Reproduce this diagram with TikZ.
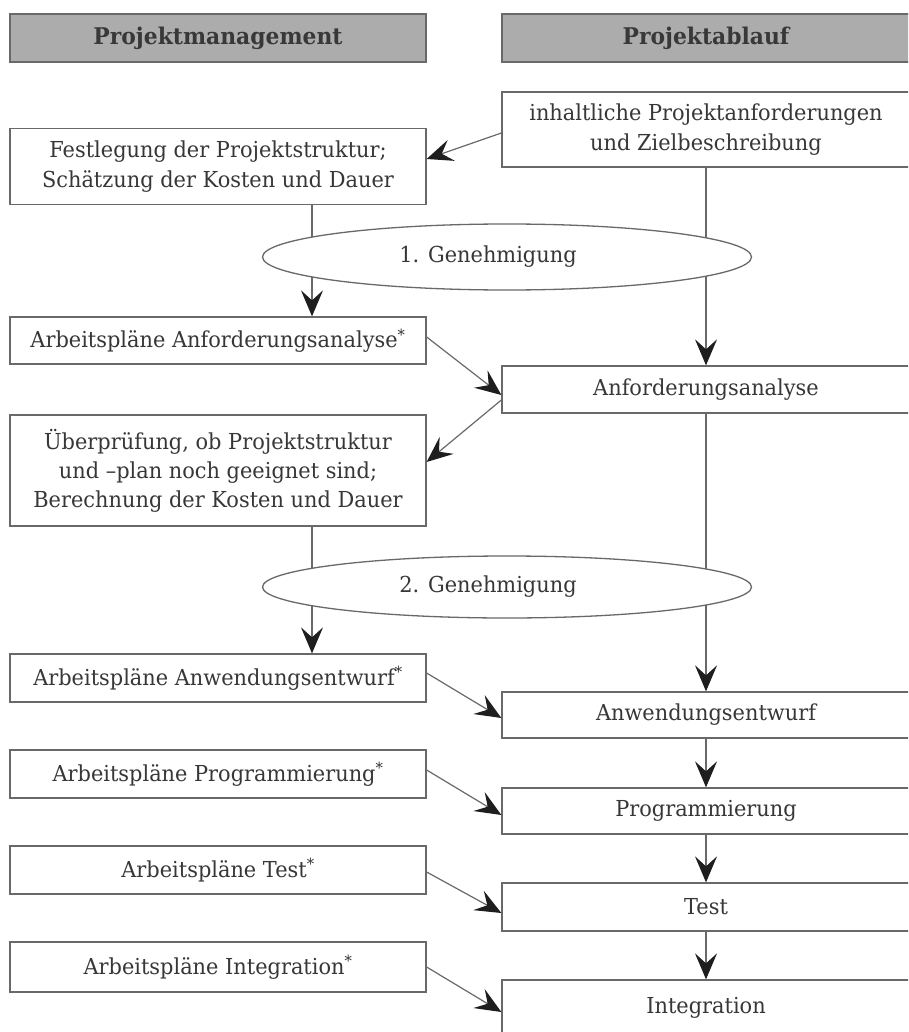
\documentclass[tikz,border=0pt]{standalone}
\usepackage{fontspec}
\setmainfont{DejaVu Serif}[FakeStretch=0.95]
\usetikzlibrary{shapes.geometric,arrows.meta}

\definecolor{linegray}{RGB}{105,105,105}
\definecolor{textgray}{RGB}{55,55,55}
\definecolor{headgray}{RGB}{172,172,172}
\definecolor{tipgray}{RGB}{30,30,30}

\begin{document}
\begin{tikzpicture}
    [x=1pt, y=-1pt,
    pfeil/.style={draw=linegray, line width=1.2pt, -{Stealth[length=26pt, width=22pt, inset=10pt, color=tipgray]}},
    kasten/.style={draw=linegray, line width=1.3pt, fill=white, text=textgray, align=center,
        inner sep=0pt, font=\fontsize{22}{30}\selectfont},
    links/.style={kasten, minimum width=416pt},
    rechts/.style={kasten, minimum width=408pt},
    kopf/.style={draw=linegray, line width=1.3pt, fill=headgray, text=black!78,
        minimum height=48pt, inner sep=0pt, font=\fontsize{23}{30}\selectfont\bfseries},
    genehm/.style={ellipse, draw=linegray, line width=1.3pt, fill=white, text=textgray,
        minimum width=489pt, inner sep=0pt, font=\fontsize{22}{30}\selectfont}]
        \clip (0,0) rectangle (908,1032);
        \fill[white] (0,0) rectangle (908,1032);

        % Projektmanagement
        \node[kopf, minimum width=416pt] (PM) at (218,38) {Projektmanagement};
        \node[links, minimum height=76pt] (PM1) at (218,166.5) {Festlegung der Projektstruktur;\\Schätzung der Kosten und Dauer};
        \node[links, minimum height=47pt] (PM2) at (218,340.5) {Arbeitspläne Anforderungsanalyse\textsuperscript{*}};
        \node[links, minimum height=111pt, font=\fontsize{22}{29}\selectfont] (PM3) at (218,470.5) {Überprüfung, ob Projektstruktur\\und –plan noch geeignet sind;\\Berechnung der Kosten und Dauer};
        \node[links, minimum height=48pt] (PM4) at (218,678) {Arbeitspläne Anwendungsentwurf\textsuperscript{*}};
        \node[links, minimum height=48pt] (PM5) at (218,774) {Arbeitspläne Programmierung\textsuperscript{*}};
        \node[links, minimum height=48pt] (PM6) at (218,870) {Arbeitspläne Test\textsuperscript{*}};
        \node[links, minimum height=50pt] (PM7) at (218,967) {Arbeitspläne Integration\textsuperscript{*}};

        % Projektablauf
        \node[kopf, minimum width=408pt] (PA) at (706,38) {Projektablauf};
        \node[rechts, minimum height=75pt] (PA1) at (706,129.5) {inhaltliche Projektanforderungen\\und Zielbeschreibung};
        \node[rechts, minimum height=47pt] (PA2) at (706,389.5) {Anforderungsanalyse};
        \node[rechts, minimum height=46pt] (PA3) at (706,715) {Anwendungsentwurf};
        \node[rechts, minimum height=46pt] (PA4) at (706,811) {Programmierung};
        \node[rechts, minimum height=48pt] (PA5) at (706,907) {Test};
        \node[rechts, minimum height=56pt] (PA6) at (706,1008) {Integration};

        \draw[pfeil] ([yshift=-3.5pt]PA1.west) to ([yshift=7.5pt]PM1.east);
        \draw[pfeil] ([xshift=94pt]PM1.south) to ([xshift=94pt]PM2.north);
        \draw[pfeil] (PA1.south) to (PA2.north);
        \draw[pfeil] ([yshift=3.5pt]PM2.east) to ([yshift=-5.5pt]PA2.west);
        \draw[pfeil] ([yshift=-10.5pt]PA2.west) to ([yshift=8.5pt]PM3.east);
        \draw[pfeil] ([xshift=94pt]PM3.south) to ([xshift=94pt]PM4.north);
        \draw[pfeil] (PA2.south) to (PA3.north);
        \draw[pfeil] ([yshift=5pt]PM4.east) to ([yshift=-3pt]PA3.west);
        \draw[pfeil] (PA3.south) to (PA4.north);
        \draw[pfeil] ([yshift=4pt]PM5.east) to ([yshift=-4pt]PA4.west);
        \draw[pfeil] (PA4.south) to (PA5.north);
        \draw[pfeil] ([yshift=-2pt]PM6.east) to ([yshift=-6pt]PA5.west);
        \draw[pfeil] (PA5.south) to (PA6.north);
        \draw[pfeil] (PM7.east) to ([yshift=-4pt]PA6.west);

        % Genehmigungen
        \node[genehm, minimum height=66pt] (G1) at (507,257) {1. Genehmigung\hspace*{38pt}};
        \node[genehm, minimum height=62pt] (G2) at (507,587) {2. Genehmigung\hspace*{38pt}};
\end{tikzpicture}
\end{document}
